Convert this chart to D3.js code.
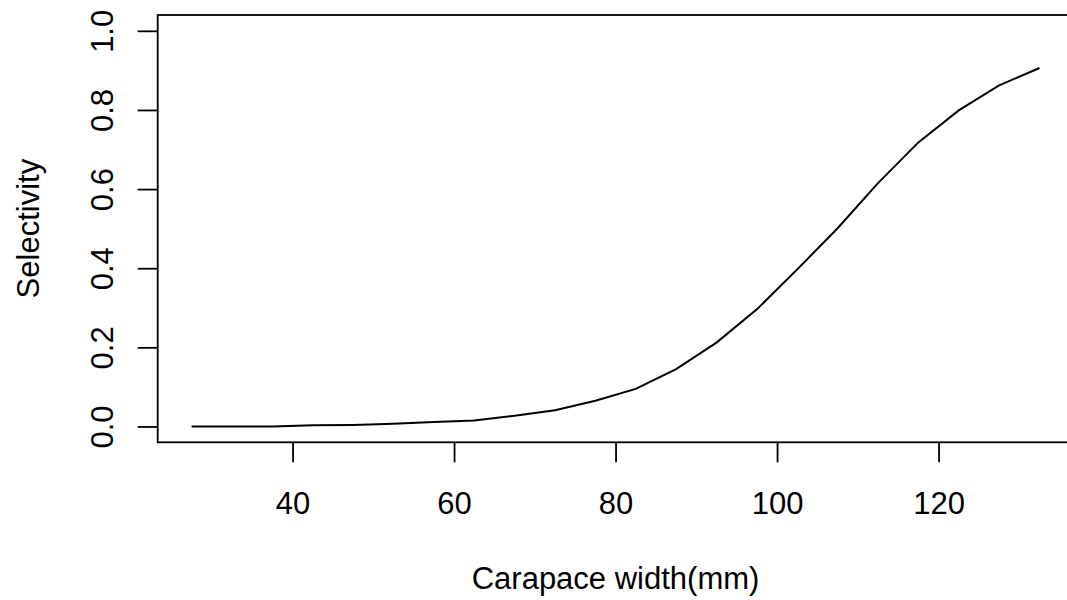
<!DOCTYPE html>
<html>
<head>
<meta charset="utf-8">
<script src="https://cdn.jsdelivr.net/npm/d3@7"></script>
<style>
    body { margin: 0; background: #fff; }
    text { font-family: "Liberation Sans", Arial, sans-serif; }
</style>
</head>
<body>
<svg id="drawing_region"></svg>
<script>
// carapace width class midpoints (mm) and fitted selectivity
const widths = [27.5, 32.5, 37.5, 42.5, 47.5, 52.5, 57.5, 62.5, 67.5, 72.5, 77.5,
                82.5, 87.5, 92.5, 97.5, 102.5, 107.5, 112.5, 117.5, 122.5, 127.5, 132.5];
const selectivity = [0.000, 0.000, 0.000, 0.003, 0.004, 0.007, 0.011, 0.015, 0.027, 0.041, 0.065,
                     0.095, 0.145, 0.212, 0.296, 0.397, 0.501, 0.615, 0.718, 0.799, 0.862, 0.906];
const xTicks = [40, 60, 80, 100, 120];
const yTicks = [0.0, 0.2, 0.4, 0.6, 0.8, 1.0];
const xTitle = "Carapace width(mm)";
const yTitle = "Selectivity";

var config = {
    parent: '#drawing_region',
    width: 1067,
    height: 600,
    left: 157.7,
    top: 15,
    plotWidth: 915.7,
    plotHeight: 427.3,
    fontSize: 31
};

const data = widths.map((w, i) => ({ x: w, y: selectivity[i] }));

const svg = d3.select(config.parent)
    .attr('width', config.width)
    .attr('height', config.height);

const chart = svg.append('g')
    .attr('transform', `translate(${config.left}, ${config.top})`);

// R style axis ranges: data range padded by 4% each side
const xExt = d3.extent(widths);
const xPad = (xExt[1] - xExt[0]) * 0.04;
const xScale = d3.scaleLinear()
    .domain([xExt[0] - xPad, xExt[1] + xPad])
    .range([0, config.plotWidth]);

const yScale = d3.scaleLinear()
    .domain([0 - 0.04, 1 + 0.04])
    .range([config.plotHeight, 0]);

// curve
const line = d3.line()
    .x(d => xScale(d.x))
    .y(d => yScale(d.y));

chart.append('path')
    .datum(data)
    .attr('d', line)
    .attr('fill', 'none')
    .attr('stroke', 'black')
    .attr('stroke-width', 2);

// x axis
const xAxis = chart.append('g')
    .attr('transform', `translate(0, ${config.plotHeight})`)
    .call(d3.axisBottom(xScale).tickValues(xTicks).tickSize(20).tickSizeOuter(0).tickFormat(d3.format('d')));

// y axis
const yAxis = chart.append('g')
    .call(d3.axisLeft(yScale).tickValues(yTicks).tickSize(20).tickSizeOuter(0).tickFormat(d3.format('.1f')));

[xAxis, yAxis].forEach(a => {
    a.select('.domain').remove();
    a.selectAll('line').attr('stroke', 'black').attr('stroke-width', 1.8);
    a.selectAll('text')
        .attr('fill', 'black')
        .style('font-size', config.fontSize + 'px')
        .style('font-family', '"Liberation Sans", Arial, sans-serif');
});

xAxis.selectAll('text')
    .attr('y', 71.7)
    .attr('dy', 0);

yAxis.selectAll('text')
    .attr('x', 0)
    .attr('y', -45)
    .attr('dy', 0)
    .attr('text-anchor', 'middle')
    .attr('transform', 'rotate(-90)');

// box
chart.append('rect')
    .attr('x', 0)
    .attr('y', 0)
    .attr('width', config.plotWidth)
    .attr('height', config.plotHeight)
    .attr('fill', 'none')
    .attr('stroke', 'black')
    .attr('stroke-width', 1.8);

// titles
chart.append('text')
    .attr('x', config.plotWidth / 2)
    .attr('y', config.plotHeight + 146.7)
    .attr('text-anchor', 'middle')
    .style('font-size', config.fontSize + 'px')
    .text(xTitle);

chart.append('text')
    .attr('transform', `translate(${39 - config.left}, ${config.plotHeight / 2}) rotate(-90)`)
    .attr('text-anchor', 'middle')
    .style('font-size', config.fontSize + 'px')
    .text(yTitle);
</script>
</body>
</html>
